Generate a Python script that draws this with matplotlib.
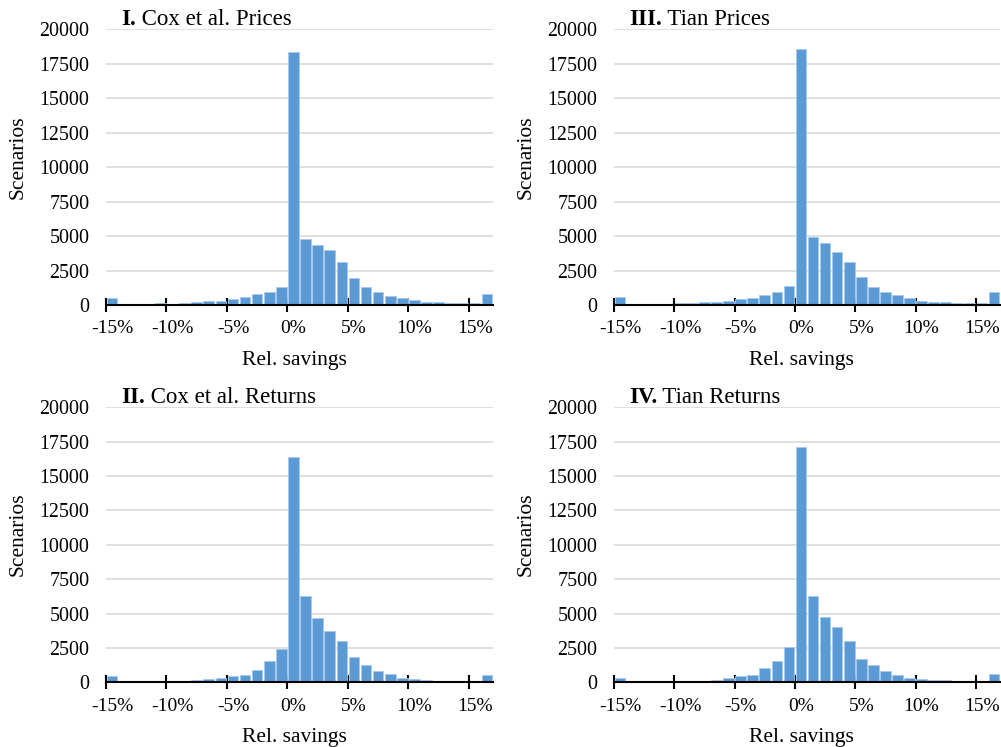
"""
Four histograms of relative savings (Excel-style bar panels)
"""

### Import modules
import numpy as np
import matplotlib
matplotlib.use('Agg')
import matplotlib.pyplot as plt

### Categories: -15% ... 16% (one bar per percent)
categories = np.arange(-15, 17, 1)
ticklabels = ['-15%', '-10%', '-5%', '0%', '5%', '10%', '15%']

### Counts
cox_prices = [530, 20, 75, 75, 120, 75, 145, 195, 265, 290, 435, 560, 775,
              970, 1335, 18350, 4760, 4370, 3960, 3150, 1965, 1310, 970,
              655, 535, 340, 245, 220, 145, 145, 120, 825]
tian_prices = [560, 20, 50, 50, 75, 120, 145, 195, 240, 290, 435, 510, 730,
               970, 1385, 18550, 4930, 4470, 3815, 3140, 2030, 1310, 945,
               700, 510, 315, 245, 220, 145, 145, 145, 920]
cox_returns = [465, 30, 30, 30, 40, 50, 100, 170, 220, 320, 490, 540, 905,
               1520, 2400, 16400, 6260, 4660, 3740, 3000, 1840, 1250, 835,
               610, 345, 270, 195, 120, 100, 100, 75, 565]
tian_returns = [295, 20, 25, 25, 50, 50, 100, 120, 170, 345, 490, 540, 1030,
                1570, 2575, 17120, 6310, 4780, 4005, 3000, 1715, 1275, 810,
                540, 345, 245, 195, 170, 100, 100, 25, 590]

panels = [('I.', ' Cox et al. Prices', cox_prices),
          ('III.', ' Tian Prices', tian_prices),
          ('II.', ' Cox et al. Returns', cox_returns),
          ('IV.', ' Tian Returns', tian_returns)]

###############################################################################
### Plot figure
plt.rc('font', family='Liberation Serif')
barcolor = '#5b9bd5'

W, H = 1001, 747
fig = plt.figure(figsize=(W/100, H/100), dpi=100)

### axes boxes in pixels: left, right, top, bottom
boxes = [(106, 493, 29.3, 305.0),
         (614, 1000, 29.3, 305.0),
         (106, 493, 407.3, 682.3),
         (614, 1000, 407.3, 682.3)]

xpos = np.arange(len(categories))
for (bold, rest, counts), (l, r, t, b) in zip(panels, boxes):
    ax = fig.add_axes([l/W, 1 - b/H, (r - l)/W, (b - t)/H])
    ax.bar(xpos, counts, width=0.88, color=barcolor, edgecolor='#a8c9ec',
           linewidth=0.6, zorder=2)

    ax.set_xlim(-0.5, len(categories) - 0.5)
    ax.set_ylim(0, 20000)
    ax.set_yticks(np.arange(0, 20001, 2500))
    ax.yaxis.grid(True, color='#d9d9d9', linewidth=1.2, zorder=0)
    ax.set_axisbelow(True)

    for loc in ['top', 'right', 'left']:
        ax.spines[loc].set_visible(False)
    ax.spines['bottom'].set_linewidth(1.5)
    ax.spines['bottom'].set_zorder(3)

    labpos = [list(categories).index(int(s.strip('%'))) for s in ticklabels]
    ax.set_xticks(labpos, ticklabels)
    ax.set_xticks(np.array(labpos) - 0.5, minor=True)
    ax.tick_params(axis='x', which='major', length=0, pad=11, labelsize=14)
    ax.tick_params(axis='x', which='minor', direction='inout', length=10,
                   width=1.5, color='black')
    ax.tick_params(axis='y', length=0, pad=12, labelsize=14.4)

    ax.set_ylabel('Scenarios', fontsize=15.5, va='center')
    ax.yaxis.set_label_coords(-0.227, 0.537)
    ax.set_xlabel('Rel. savings', fontsize=15.5, va='center')
    ax.xaxis.set_label_coords(0.486, -0.2)

    t1 = ax.annotate(bold, xy=(0, 1), xycoords='axes fraction',
                     xytext=(15, 10), textcoords='offset pixels',
                     fontsize=16.5, fontweight='bold', ha='left',
                     va='center')
    ax.annotate(rest, xy=(1, 0.5), xycoords=t1, fontsize=16.5,
                ha='left', va='center')

plt.savefig('out.png', dpi=100)
